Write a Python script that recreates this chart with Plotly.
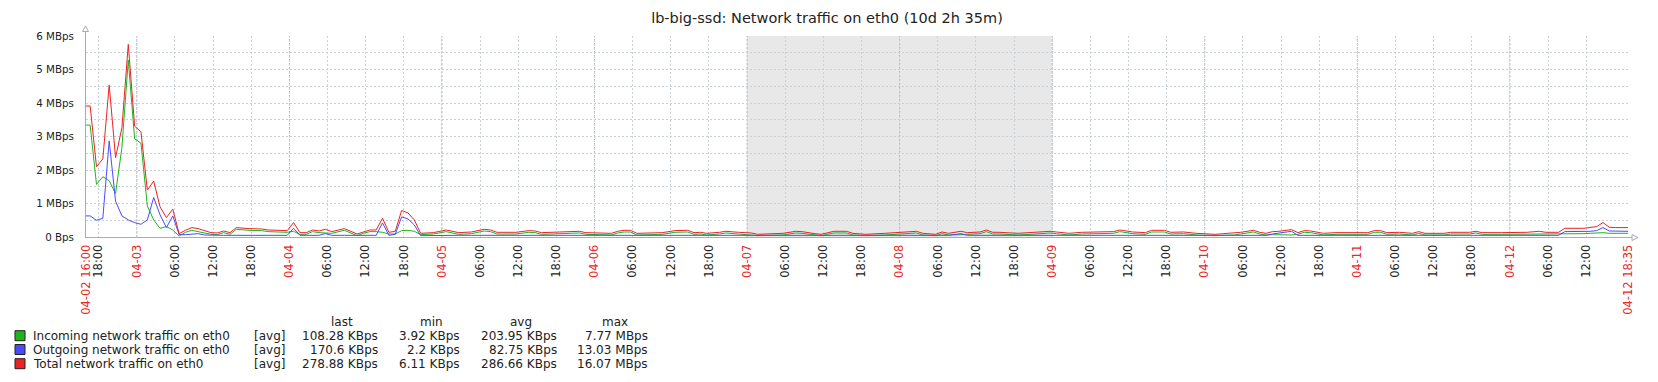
import plotly.graph_objects as go
import pandas as pd

# ---------------- data ----------------
START = pd.Timestamp("2018-04-02 16:00")
END = pd.Timestamp("2018-04-12 18:35")

# hourly sample index (sample k lies at START + k + 0.65 h); -1 = start of period, 999 = end
sample_k = [-1, 0, 1, 2, 3, 4, 5, 6, 7, 8, 9, 10, 11, 12, 13, 14, 15, 16, 17, 18, 19, 20, 21, 22, 23,
            25, 27, 28, 30, 31, 32, 33, 34, 35, 36, 37, 38, 40, 42, 43, 44, 45, 46, 47, 48, 49, 50, 51, 52,
            54, 56, 58, 60, 62, 63, 64, 67, 69, 70, 71, 73, 75, 77, 78, 80, 82, 83, 84, 85, 86, 90, 92,
            94, 95, 96, 97, 99, 100, 102, 104, 105, 109, 111, 112, 114, 115, 117, 119, 120, 122, 125,
            127, 130, 131, 133, 134, 135, 137, 138, 140, 141, 142, 143, 146, 148, 151, 152, 154, 156,
            160, 161, 162, 164, 166, 167, 169, 170, 172, 174, 177, 180, 181, 183, 184, 185, 186, 187,
            189, 190, 191, 192, 194, 196, 200, 201, 202, 203, 204, 206, 208, 209, 210, 213, 214, 217,
            218, 219, 222, 224, 226, 228, 229, 231, 232, 235, 236, 237, 238, 239, 240, 999]

total_mbps = [3.91, 3.91, 2.10, 2.33, 4.54, 2.37, 3.26, 5.75, 3.31, 3.14, 1.40, 1.67, 0.90, 0.58, 0.83,
              0.10, 0.20, 0.28, 0.25, 0.18, 0.13, 0.12, 0.18, 0.13, 0.28,
              0.25, 0.24, 0.21, 0.19, 0.19, 0.43, 0.13, 0.13, 0.21, 0.18, 0.23, 0.16, 0.25, 0.09, 0.16,
              0.21, 0.21, 0.56, 0.14, 0.17, 0.79, 0.72, 0.51, 0.11,
              0.13, 0.21, 0.13, 0.15, 0.23, 0.21, 0.14, 0.14, 0.19, 0.18, 0.13, 0.14, 0.17, 0.17, 0.13,
              0.11, 0.11, 0.17, 0.20, 0.20, 0.11, 0.13, 0.19,
              0.20, 0.13, 0.14, 0.11, 0.14, 0.17, 0.14, 0.12, 0.08, 0.11, 0.17, 0.16, 0.10, 0.08, 0.17,
              0.17, 0.11, 0.08, 0.11,
              0.14, 0.17, 0.11, 0.08, 0.15, 0.11, 0.17, 0.13, 0.15, 0.21, 0.14, 0.14, 0.11, 0.13, 0.17,
              0.15, 0.11, 0.14,
              0.14, 0.16, 0.21, 0.15, 0.13, 0.20, 0.20, 0.14, 0.15, 0.11, 0.08, 0.11, 0.14, 0.20, 0.14,
              0.11, 0.16, 0.17,
              0.22, 0.13, 0.19, 0.18, 0.11, 0.13, 0.13, 0.13, 0.19, 0.19, 0.13, 0.14, 0.11, 0.16, 0.11,
              0.11, 0.14, 0.14,
              0.17, 0.13, 0.13, 0.13, 0.14, 0.17, 0.14, 0.14, 0.26, 0.26, 0.29, 0.31, 0.43, 0.29, 0.28, 0.28]

incoming_mbps = [3.34, 3.34, 1.57, 1.80, 1.68, 1.30, 2.67, 5.28, 2.93, 2.80, 0.93, 0.51, 0.26, 0.31, 0.21,
                 0.03, 0.14, 0.20, 0.16, 0.12, 0.08, 0.07, 0.13, 0.08, 0.23,
                 0.20, 0.19, 0.16, 0.14, 0.14, 0.17, 0.08, 0.08, 0.16, 0.13, 0.13, 0.11, 0.20, 0.04, 0.11,
                 0.16, 0.16, 0.14, 0.09, 0.09, 0.19, 0.20, 0.17, 0.07,
                 0.09, 0.16, 0.08, 0.10, 0.18, 0.16, 0.09, 0.09, 0.14, 0.13, 0.08, 0.09, 0.12, 0.12, 0.08,
                 0.06, 0.06, 0.12, 0.15, 0.15, 0.06, 0.08, 0.14,
                 0.15, 0.08, 0.09, 0.06, 0.09, 0.12, 0.09, 0.07, 0.04, 0.06, 0.12, 0.11, 0.05, 0.04, 0.12,
                 0.12, 0.06, 0.04, 0.06,
                 0.09, 0.12, 0.06, 0.04, 0.10, 0.06, 0.07, 0.08, 0.10, 0.16, 0.09, 0.09, 0.06, 0.08, 0.12,
                 0.10, 0.06, 0.09,
                 0.09, 0.11, 0.16, 0.10, 0.08, 0.15, 0.15, 0.09, 0.10, 0.06, 0.04, 0.06, 0.09, 0.15, 0.09,
                 0.06, 0.07, 0.06,
                 0.06, 0.08, 0.14, 0.13, 0.06, 0.08, 0.08, 0.08, 0.14, 0.14, 0.08, 0.09, 0.06, 0.11, 0.06,
                 0.06, 0.09, 0.09,
                 0.12, 0.08, 0.08, 0.08, 0.09, 0.10, 0.09, 0.09, 0.10, 0.10, 0.11, 0.12, 0.13, 0.11, 0.11, 0.11]

outgoing_mbps = [0.63, 0.63, 0.50, 0.56, 2.87, 1.07, 0.63, 0.51, 0.43, 0.38, 0.51, 1.18, 0.66, 0.28, 0.63,
                 0.07, 0.07, 0.08, 0.10, 0.06, 0.05, 0.05, 0.05, 0.05, 0.05,
                 0.05, 0.05, 0.05, 0.05, 0.05, 0.26, 0.05, 0.05, 0.05, 0.05, 0.10, 0.05, 0.05, 0.05, 0.05,
                 0.05, 0.05, 0.42, 0.05, 0.08, 0.60, 0.54, 0.36, 0.04,
                 0.05, 0.05, 0.05, 0.05, 0.05, 0.05, 0.05, 0.05, 0.05, 0.05, 0.05, 0.05, 0.05, 0.05, 0.05,
                 0.05, 0.05, 0.05, 0.05, 0.05, 0.05, 0.05, 0.05,
                 0.05, 0.05, 0.05, 0.05, 0.05, 0.05, 0.05, 0.05, 0.04, 0.05, 0.05, 0.05, 0.05, 0.04, 0.05,
                 0.05, 0.05, 0.04, 0.05,
                 0.05, 0.05, 0.05, 0.04, 0.05, 0.05, 0.10, 0.05, 0.05, 0.05, 0.05, 0.05, 0.05, 0.05, 0.05,
                 0.05, 0.05, 0.05,
                 0.05, 0.05, 0.05, 0.05, 0.05, 0.05, 0.05, 0.05, 0.05, 0.05, 0.04, 0.05, 0.05, 0.05, 0.05,
                 0.05, 0.09, 0.11,
                 0.17, 0.05, 0.05, 0.05, 0.05, 0.05, 0.05, 0.05, 0.05, 0.05, 0.05, 0.05, 0.05, 0.05, 0.05,
                 0.05, 0.05, 0.05,
                 0.05, 0.05, 0.05, 0.05, 0.05, 0.07, 0.05, 0.05, 0.16, 0.16, 0.17, 0.19, 0.28, 0.18, 0.17, 0.17]

y_tick_values = [0, 1, 2, 3, 4, 5, 6]
y_tick_labels = ["0 Bps", "1 MBps", "2 MBps", "3 MBps", "4 MBps", "5 MBps", "6 MBps"]

series_names = ["Incoming network traffic on eth0",
                "Outgoing network traffic on eth0",
                "Total network traffic on eth0"]
series_func = ["[avg]", "[avg]", "[avg]"]
last_vals = ["108.28 KBps", "170.6 KBps", "278.88 KBps"]
min_vals = ["3.92 KBps", "2.2 KBps", "6.11 KBps"]
avg_vals = ["203.95 KBps", "82.75 KBps", "286.66 KBps"]
max_vals = ["7.77 MBps", "13.03 MBps", "16.07 MBps"]

TITLE = "lb-big-ssd: Network traffic on eth0 (10d 2h 35m)"

# ---------------- build ----------------
def k_to_time(k):
    if k == -1:
        return START
    if k == 999:
        return END
    return START + pd.Timedelta(hours=k + 0.65)

times = [k_to_time(k) for k in sample_k]

GREEN = "#1eb41e"
BLUE = "#4a4aff"
RED = "#ee2222"
DATE_RED = "#e82a2a"
TXT = "#222222"
GRID = "#c9d1d7"
FONT = "DejaVu Sans"

W, H = 1658, 382
L, R, T, B = 86, 30, 36, 145
PW, PH = W - L - R, H - T - B


def px(x):
    return (x - L) / PW


def py(y):
    return (H - B - y) / PH


fig = go.Figure()
for vals, col in [(incoming_mbps, GREEN), (outgoing_mbps, BLUE), (total_mbps, RED)]:
    fig.add_trace(go.Scatter(x=times, y=vals, mode="lines", line=dict(color=col, width=1),
                             showlegend=False, hoverinfo="skip"))

# x ticks every 6 hours
tick_times = [START]
t = pd.Timestamp("2018-04-02 18:00")
while t < pd.Timestamp("2018-04-12 18:00"):
    tick_times.append(t)
    t += pd.Timedelta(hours=6)
tick_times.append(END)
tick_text = []
for i, tt in enumerate(tick_times):
    if i == 0 or i == len(tick_times) - 1:
        tick_text.append(f'<span style="color:{DATE_RED}">{tt.strftime("%m-%d %H:%M")}</span>')
    elif tt.hour == 0:
        tick_text.append(f'<span style="color:{DATE_RED}">{tt.strftime("%m-%d")}</span>')
    else:
        tick_text.append(tt.strftime("%H:%M"))

ytv = [v / 2 for v in range(0, 13)]
ytt = [y_tick_labels[y_tick_values.index(int(v))] if v == int(v) else "" for v in ytv]

fig.update_xaxes(range=[START, END], tickvals=tick_times, ticktext=tick_text, tickangle=-90,
                 showgrid=True, gridcolor=GRID, griddash="2px,2px", gridwidth=1,
                 ticks="", tickfont=dict(family=FONT, size=11.5, color=TXT),
                 showline=True, linecolor="#a3adb5", linewidth=1, zeroline=False,
                 ticklabelstandoff=2)
fig.update_yaxes(range=[0, 6], tickvals=ytv, ticktext=ytt,
                 showgrid=True, gridcolor=GRID, griddash="2px,2px", gridwidth=1,
                 ticks="", tickfont=dict(family=FONT, size=10.3, color=TXT),
                 showline=True, linecolor="#a3adb5", linewidth=1, zeroline=False,
                 ticklabelstandoff=9)

shapes = []
# weekend shading
shapes.append(dict(type="rect", xref="x", yref="paper", x0=pd.Timestamp("2018-04-07"),
                   x1=pd.Timestamp("2018-04-09"), y0=0, y1=1, fillcolor="#e8e8e8",
                   line=dict(width=0), layer="below"))
# darker day separators
d = pd.Timestamp("2018-04-03")
while d < END:
    shapes.append(dict(type="line", xref="x", yref="paper", x0=d, x1=d, y0=0, y1=1,
                       line=dict(color="#aab3ba", width=1, dash="2px,2px"), layer="below"))
    d += pd.Timedelta(days=1)
# axis extensions and arrows
shapes.append(dict(type="line", xref="paper", yref="paper", x0=px(85.5), x1=px(85.5), y0=1, y1=py(31.5),
                   line=dict(color="#a3adb5", width=1)))
shapes.append(dict(type="path", xref="paper", yref="paper",
                   path=f"M {px(82.5)} {py(31.5)} L {px(85.5)} {py(26)} L {px(88.5)} {py(31.5)} Z",
                   line=dict(color="#a3adb5", width=1), fillcolor="white"))
shapes.append(dict(type="line", xref="paper", yref="paper", x0=1, x1=px(1632), y0=py(237.5), y1=py(237.5),
                   line=dict(color="#a3adb5", width=1)))
shapes.append(dict(type="path", xref="paper", yref="paper",
                   path=f"M {px(1632)} {py(234.5)} L {px(1638)} {py(237.5)} L {px(1632)} {py(240.5)} Z",
                   line=dict(color="#a3adb5", width=1), fillcolor="white"))

# legend table
colors = [GREEN, BLUE, RED]
row_y = [335.7, 349.5, 363.7]
annotations = []
lf = dict(family=FONT, size=12, color=TXT)
for hdr, cx in [("last", 341.7), ("min", 431.7), ("avg", 521), ("max", 615)]:
    annotations.append(dict(text=hdr, x=px(cx), y=py(321.7), xref="paper", yref="paper",
                            xanchor="center", yanchor="middle", showarrow=False, font=lf))
for i in range(3):
    yy = row_y[i]
    shapes.append(dict(type="rect", xref="paper", yref="paper", x0=px(15), x1=px(25),
                       y0=py(yy - 5), y1=py(yy + 5), fillcolor=colors[i],
                       line=dict(color="#222222", width=1)))
    annotations.append(dict(text=series_names[i], x=px(31), y=py(yy), xref="paper", yref="paper",
                            xanchor="left", yanchor="middle", showarrow=False, font=lf))
    annotations.append(dict(text=series_func[i], x=px(252), y=py(yy), xref="paper", yref="paper",
                            xanchor="left", yanchor="middle", showarrow=False, font=lf))
    for vals, rx in [(last_vals, 380), (min_vals, 461.7), (avg_vals, 559.3), (max_vals, 650)]:
        annotations.append(dict(text=vals[i], x=px(rx), y=py(yy), xref="paper", yref="paper",
                                xanchor="right", yanchor="middle", showarrow=False, font=lf))

fig.update_layout(
    width=W, height=H, margin=dict(l=L, r=R, t=T, b=B, pad=0),
    paper_bgcolor="white", plot_bgcolor="white",
    title=dict(text=TITLE, x=827 / W, xanchor="center", y=1 - 18 / H, yanchor="middle",
               font=dict(family=FONT, size=14.5, color=TXT)),
    shapes=shapes, annotations=annotations, showlegend=False,
)

fig.write_html("out.html")
